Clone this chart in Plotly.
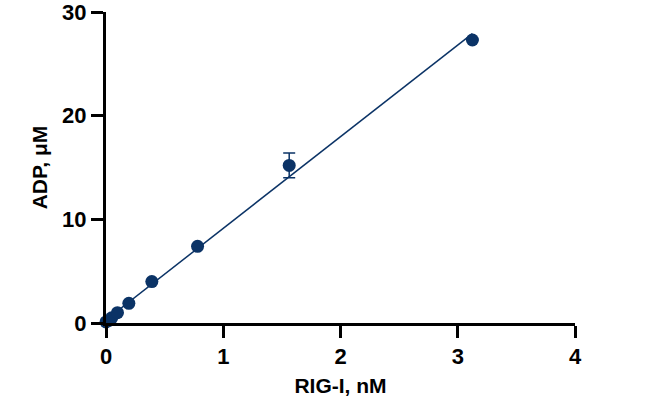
import numpy as np
import plotly.graph_objects as go

rig_nM = [0.0, 0.0244, 0.0488, 0.0977, 0.195, 0.391, 0.781, 1.5625, 3.125]
adp_uM = [0.1, 0.25, 0.5, 1.0, 1.9, 4.0, 7.4, 15.2, 27.3]
adp_err = [0.0, 0.0, 0.0, 0.0, 0.0, 0.0, 0.0, 1.2, 0.0]

x_ticks = [0, 1, 2, 3, 4]
y_ticks = [0, 10, 20, 30]

color = "#0b3366"

slope, intercept = np.polyfit(rig_nM, adp_uM, 1)
fit_x = np.array([min(rig_nM), max(rig_nM)])
fit_y = slope * fit_x + intercept

fig = go.Figure()
fig.add_trace(go.Scatter(x=fit_x, y=fit_y, mode="lines",
                         line=dict(color=color, width=1.5), showlegend=False))
fig.add_trace(go.Scatter(x=rig_nM, y=adp_uM, mode="markers",
                         marker=dict(color=color, size=13),
                         error_y=dict(type="data", array=adp_err, visible=True,
                                      color=color, thickness=1.5, width=6),
                         showlegend=False, cliponaxis=False))

font_family = "Liberation Sans, Arial, sans-serif"
axis_common = dict(showgrid=False, zeroline=False, automargin=False,
                   showline=True, linecolor="black", linewidth=3,
                   ticks="outside", ticklen=12, tickwidth=3, tickcolor="black",
                   tickfont=dict(size=22), ticklabeloverflow="allow")
fig.update_layout(
    width=650, height=409,
    margin=dict(l=106, r=75, t=12, b=86),
    plot_bgcolor="white", paper_bgcolor="white",
    font=dict(family=font_family, color="black", size=21),
    xaxis=dict(range=[0, 4], tickvals=x_ticks,
               ticktext=[f"<b>{t}</b>" for t in x_ticks],
               title=dict(text="<b>RIG-I, nM</b>", font=dict(size=21), standoff=10),
               **axis_common),
    yaxis=dict(range=[0, 30], tickvals=y_ticks,
               ticktext=[f"<b>{t}</b>" for t in y_ticks],
               title=dict(text="<b>ADP, μM</b>", font=dict(size=21), standoff=9),
               **axis_common),
)
fig.write_html("out.html", config={"displayModeBar": False},
               post_script="document.body.style.margin='0';document.body.style.overflow='hidden';")
